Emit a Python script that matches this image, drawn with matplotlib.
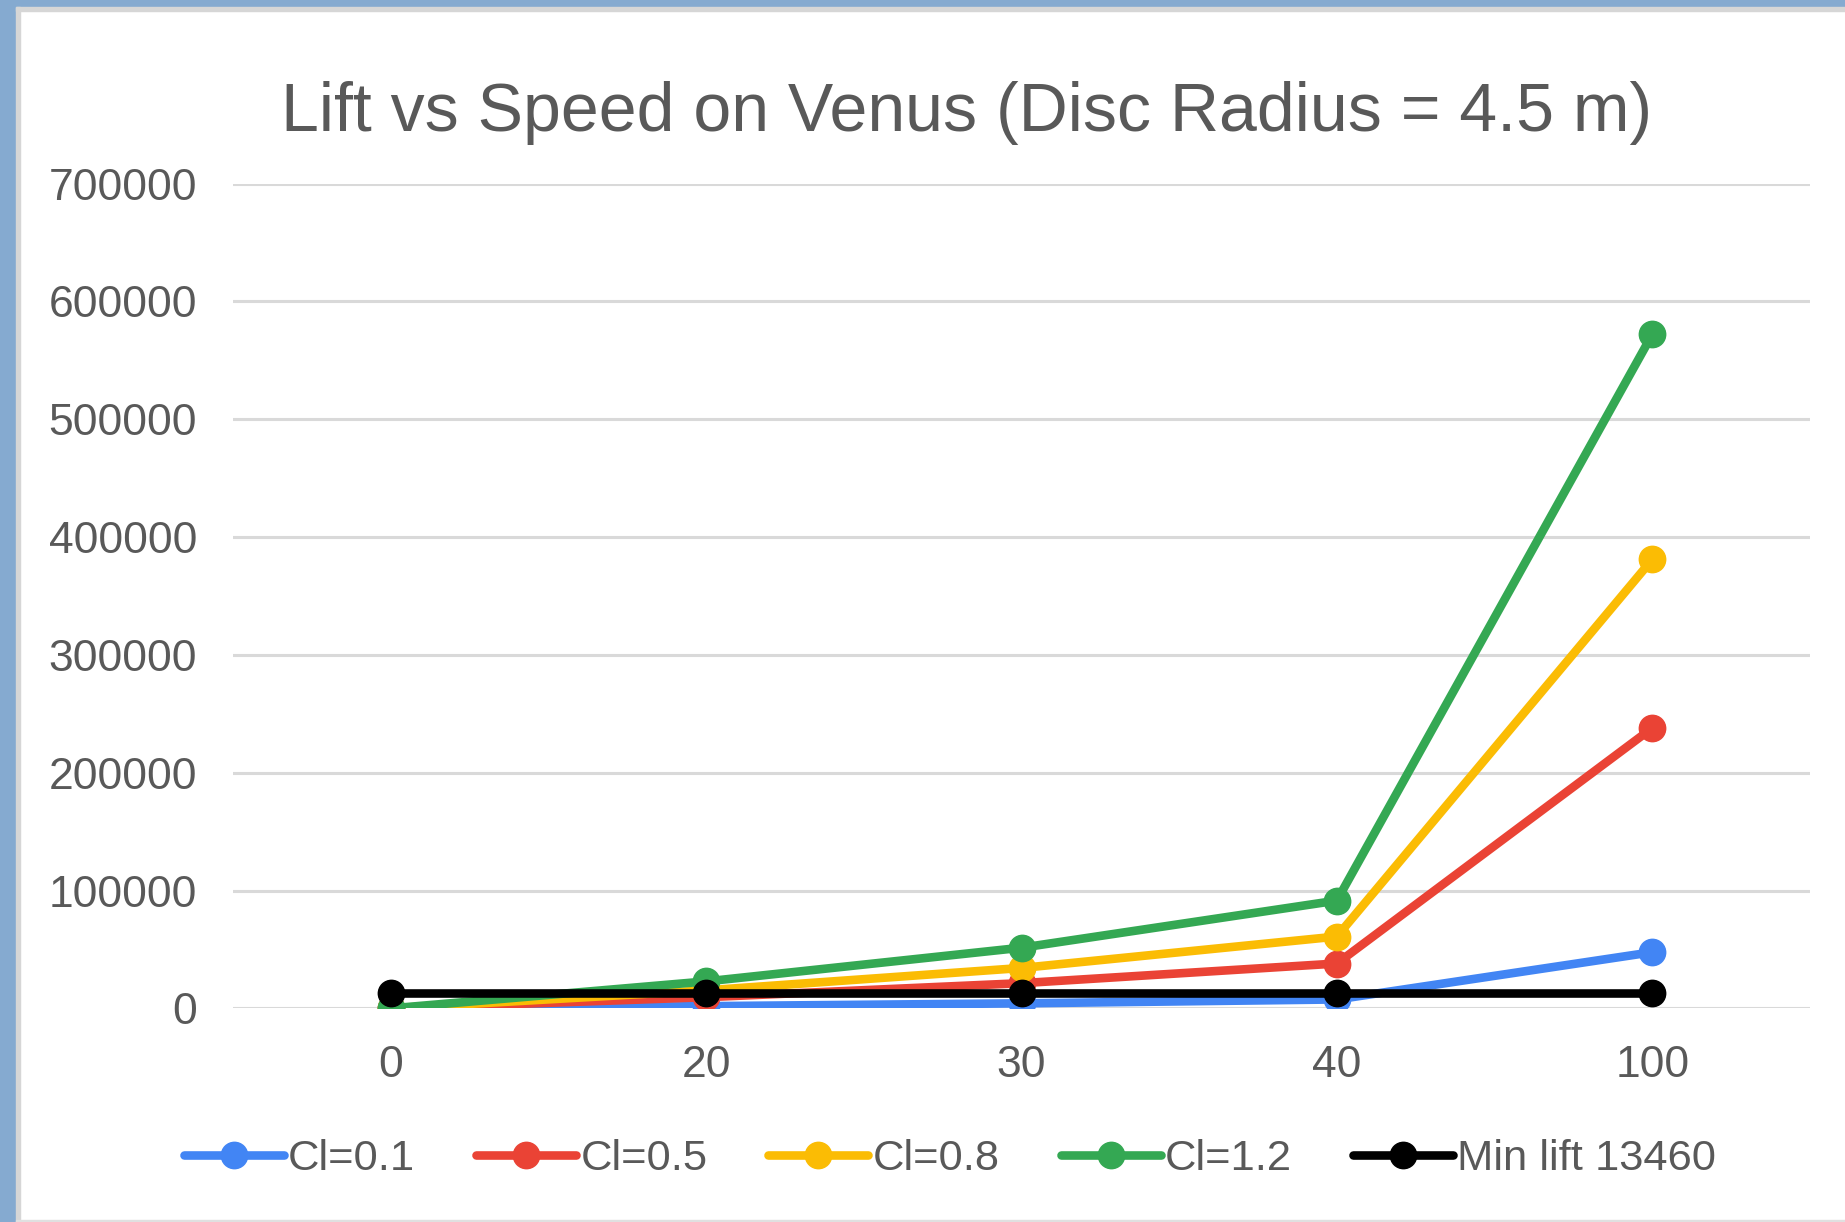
import matplotlib
matplotlib.use('Agg')
import matplotlib.pyplot as plt
from matplotlib.patches import Rectangle

# data
speeds = ['0', '20', '30', '40', '100']
cl_01 = [0, 1900, 4300, 7600, 47700]
cl_05 = [0, 9500, 21400, 38100, 238000]
cl_08 = [0, 15300, 34300, 61000, 381000]
cl_12 = [0, 22900, 51500, 91500, 572000]
min_lift = [13460, 13460, 13460, 13460, 13460]

labels = ['Cl=0.1', 'Cl=0.5', 'Cl=0.8', 'Cl=1.2', 'Min lift 13460']
colors = ['#4285F4', '#EA4335', '#FBBC04', '#34A853', '#000000']

plt.rcParams['font.family'] = ['Liberation Sans', 'DejaVu Sans']
txt = '#595959'

fig = plt.figure(figsize=(18.45, 12.22), dpi=100)

# window frame
fig.patches.append(Rectangle((0, 0), 16 / 1845, 1, transform=fig.transFigure, color='#85AAD0', zorder=0))
fig.patches.append(Rectangle((0, 1 - 7 / 1222), 1, 7 / 1222, transform=fig.transFigure, color='#85AAD0', zorder=0))
fig.patches.append(Rectangle((16 / 1845, 0), 4 / 1845, 1 - 7 / 1222, transform=fig.transFigure, color='#d6d6d6', zorder=0))
fig.patches.append(Rectangle((16 / 1845, 1 - 11 / 1222), 1, 4 / 1222, transform=fig.transFigure, color='#d6d6d6', zorder=0))
fig.patches.append(Rectangle((16 / 1845, 0), 1, 2 / 1222, transform=fig.transFigure, color='#e0e0e0', zorder=0))

ax = fig.add_axes([233 / 1845, 1 - 1008.4 / 1222, (1810 - 233) / 1845, (1008.4 - 183.6) / 1222])

x = range(len(speeds))
series = [cl_01, cl_05, cl_08, cl_12, min_lift]
for s, lab, c in zip(series, labels, colors):
    ax.plot(x, s, color=c, lw=6.2, marker='o', ms=19, label=lab, solid_capstyle='round')

ax.set_xlim(-0.5, 4.5)
ax.set_ylim(0, 700000)
ax.set_yticks(range(0, 700001, 100000))
ax.set_yticklabels([str(v) for v in range(0, 700001, 100000)])
ax.set_xticks(list(x))
ax.set_xticklabels(speeds)
ax.grid(axis='y', color='#d9d9d9', lw=2.2)
ax.set_axisbelow(True)
for sp in ax.spines.values():
    sp.set_visible(False)
ax.tick_params(axis='both', length=0, labelsize=32, labelcolor=txt)
ax.tick_params(axis='y', pad=26)
ax.tick_params(axis='x', pad=26)

fig.text(967 / 1845, 1 - 113 / 1222, 'Lift vs Speed on Venus (Disc Radius = 4.5 m)',
         ha='center', va='center', fontsize=49, color=txt)

fig.legend(loc='center', bbox_to_anchor=(950 / 1845, 1 - 1159 / 1222), ncol=5, frameon=False,
           fontsize=31.3, labelcolor=txt, handlelength=2.3, handletextpad=0.1, columnspacing=1.4)

fig.savefig('out.png', dpi=100)
